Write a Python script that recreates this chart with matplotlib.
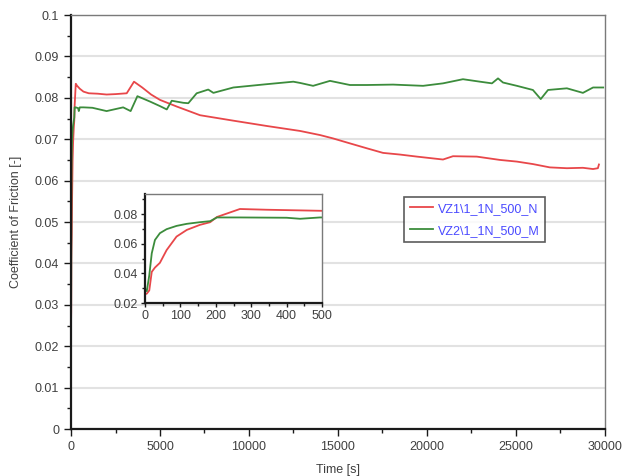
#! /usr/bin/env python3

import matplotlib
matplotlib.use('Agg')
import matplotlib.pyplot as plt
from matplotlib.ticker import MultipleLocator

# time [s] and coefficient of friction
time_n = [0, 5, 12, 19, 28, 42, 61, 89, 118, 155, 184, 203, 268, 344, 494,
          700, 1000, 1500, 2000, 2500, 3130, 3540, 4000, 4500, 5000, 5940,
          7250, 9100, 11000, 12870, 14000, 14720, 15670, 16630, 17530, 18480,
          19440, 20900, 21460, 22800, 24100, 25050, 25950, 26900, 27860,
          28760, 29330, 29600, 29660]
cof_n = [0.0260, 0.0263, 0.0285, 0.0410, 0.0439, 0.0471, 0.0557, 0.0648,
         0.0693, 0.0727, 0.0745, 0.0780, 0.0834, 0.0829, 0.0822,
         0.0815, 0.0811, 0.0810, 0.0808, 0.0809, 0.0811, 0.0839, 0.0825,
         0.0808, 0.0795, 0.0779, 0.0758, 0.0745, 0.0732, 0.0720, 0.0710,
         0.0702, 0.0690, 0.0678, 0.0667, 0.0663, 0.0658, 0.0651, 0.0659,
         0.0658, 0.0650, 0.0646, 0.0640, 0.0632, 0.0630, 0.0631, 0.0628,
         0.0630, 0.0639]

time_m = [0, 5, 12, 19, 28, 42, 61, 89, 118, 155, 184, 203, 268, 400, 438,
          494, 700, 1200, 2000, 2930, 3350, 3730, 4440, 5000, 5380, 5660,
          6310, 6590, 7060, 7710, 8000, 9120, 11000, 12490, 12870, 13600,
          14550, 15670, 16630, 18090, 19780, 20900, 22020, 22980, 23650,
          23990, 24270, 25050, 25950, 26390, 26800, 27860, 28760, 29330,
          29900]
cof_m = [0.0297, 0.0280, 0.0387, 0.0535, 0.0625, 0.0671, 0.0698, 0.0720,
         0.0734, 0.0745, 0.0752, 0.0777, 0.0777, 0.0775, 0.0768,
         0.0777, 0.0777, 0.0776, 0.0768, 0.0777, 0.0768, 0.0804, 0.0791,
         0.0780, 0.0772, 0.0793, 0.0788, 0.0787, 0.0811, 0.0820, 0.0812,
         0.0825, 0.0833, 0.0839, 0.0836, 0.0829, 0.0841, 0.0831, 0.0831,
         0.0832, 0.0829, 0.0835, 0.0845, 0.0839, 0.0835, 0.0847, 0.0837,
         0.0829, 0.0819, 0.0797, 0.0819, 0.0823, 0.0812, 0.0825, 0.0825]

labels = ['VZ1\\1_1N_500_N', 'VZ2\\1_1N_500_M']
red = '#e8474a'
green = '#3c8c3c'
txt = '#404040'
fs = 9

plt.rcParams['font.family'] = ['Liberation Sans', 'DejaVu Sans']
plt.rcParams['font.size'] = fs


def style_axes(ax):
    # dark thick left/bottom spines, thin grey top/right like the original
    for side in ['left', 'bottom']:
        ax.spines[side].set_color('#1a1a1a')
        ax.spines[side].set_linewidth(1.6)
    for side in ['top', 'right']:
        ax.spines[side].set_color('#7a7a7a')
        ax.spines[side].set_linewidth(1.0)
    ax.tick_params(which='major', length=5, width=1, colors='#1a1a1a',
                   labelcolor=txt, labelsize=fs)
    ax.tick_params(which='minor', length=3, width=1, colors='#1a1a1a')


fig = plt.figure(figsize=(6.3, 4.76), dpi=100)
ax = fig.add_axes([0.1127, 0.0987, 0.8476, 0.8697])
ax.plot(time_n, cof_n, color=red, lw=1.3, label=labels[0])
ax.plot(time_m, cof_m, color=green, lw=1.3, label=labels[1])
ax.set_xlim(0, 30000)
ax.set_ylim(0, 0.1)
ax.xaxis.set_major_locator(MultipleLocator(5000))
ax.xaxis.set_minor_locator(MultipleLocator(2500))
ax.yaxis.set_minor_locator(MultipleLocator(0.005))
ax.set_yticks([0, 0.01, 0.02, 0.03, 0.04, 0.05, 0.06, 0.07, 0.08, 0.09, 0.1])
ax.set_yticklabels(['0', '0.01', '0.02', '0.03', '0.04', '0.05', '0.06',
                    '0.07', '0.08', '0.09', '0.1'])
ax.grid(axis='y', color='#e2e2e2', lw=1.5)
ax.set_axisbelow(True)
style_axes(ax)
ax.set_xlabel('Time [s]', color=txt, fontsize=fs, labelpad=8)
ax.set_ylabel('Coefficient of Friction [-]', color=txt, fontsize=fs,
              labelpad=9)

leg = ax.legend(loc='upper left', bbox_to_anchor=(0.6245, 0.5605),
                frameon=True, fancybox=False, fontsize=fs, handlelength=1.8,
                handletextpad=0.4, borderpad=0.45, labelspacing=0.8,
                borderaxespad=0)
leg.get_frame().set_edgecolor('#333333')
leg.get_frame().set_linewidth(1.2)
for t in leg.get_texts():
    t.set_color('#4a4aff')

# inset with the first 500 s
ins = fig.add_axes([0.2302, 0.3634, 0.281, 0.229])
ins.plot(time_n, cof_n, color=red, lw=1.3)
ins.plot(time_m, cof_m, color=green, lw=1.3)
ins.set_xlim(0, 500)
ins.set_ylim(0.02, 0.0935)
ins.xaxis.set_major_locator(MultipleLocator(100))
ins.xaxis.set_minor_locator(MultipleLocator(50))
ins.set_yticks([0.02, 0.04, 0.06, 0.08])
ins.yaxis.set_minor_locator(MultipleLocator(0.01))
style_axes(ins)
ins.tick_params(which='major', length=3, pad=2)
ins.tick_params(which='minor', length=2)

fig.savefig('out.png', dpi=100)
